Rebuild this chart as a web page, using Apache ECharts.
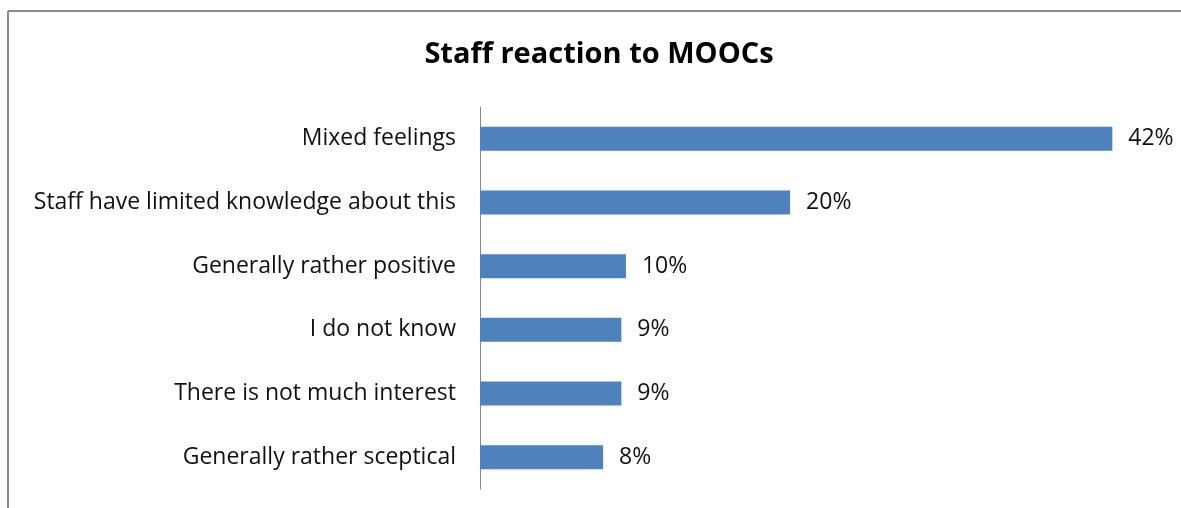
<!DOCTYPE html>
<html>
<head>
<meta charset="utf-8">
<script src="https://cdn.jsdelivr.net/npm/echarts@6/dist/echarts.min.js"></script>
<style>
  html, body { margin: 0; padding: 0; background: #fff; }
  #chart { width: 1181px; height: 508px; }
</style>
</head>
<body>
<div id="chart"></div>
<script>
// categories, top to bottom as in the picture
const categories = [
  'Mixed feelings',
  'Staff have limited knowledge about this',
  'Generally rather positive',
  'I do not know',
  'There is not much interest',
  'Generally rather sceptical'
]
// share of answers in % (labels are rounded)
const values = [41.6, 20.4, 9.6, 9.3, 9.3, 8.1]

const chart = echarts.init(document.getElementById('chart'))

const options = {
  animation: false,
  // outer frame of the original image (only left and top edges visible)
  graphic: [
    { type: 'line', shape: { x1: 8, y1: 11, x2: 1181, y2: 11 }, style: { stroke: '#8a8a8a', lineWidth: 2 } },
    { type: 'line', shape: { x1: 8, y1: 11, x2: 8, y2: 508 }, style: { stroke: '#8a8a8a', lineWidth: 2 } }
  ],
  title: {
    text: 'Staff reaction to MOOCs',
    left: 594,
    textAlign: 'center',
    top: 35,
    textStyle: {
      fontFamily: 'Open Sans',
      fontWeight: 'bold',
      fontSize: 29,
      color: '#000'
    }
  },
  grid: {
    left: 480,
    right: 17,
    top: 107,
    bottom: 19
  },
  xAxis: {
    type: 'value',
    min: 0,
    max: 45,
    show: false
  },
  yAxis: {
    type: 'category',
    inverse: true,
    data: categories,
    axisLine: { lineStyle: { color: '#888', width: 1 } },
    axisTick: { show: false },
    axisLabel: {
      margin: 24,
      fontFamily: 'Open Sans',
      fontSize: 23,
      color: '#111',
      padding: [6, 0, 0, 0]
    }
  },
  series: [
    {
      type: 'bar',
      data: values,
      barWidth: 24,
      itemStyle: { color: '#4F81BD' },
      label: {
        show: true,
        position: 'right',
        distance: 16,
        fontFamily: 'Open Sans',
        fontSize: 23,
        color: '#111',
        padding: [6, 0, 0, 0],
        formatter: p => Math.round(p.value) + '%'
      }
    }
  ]
}

chart.setOption(options)
</script>
</body>
</html>
